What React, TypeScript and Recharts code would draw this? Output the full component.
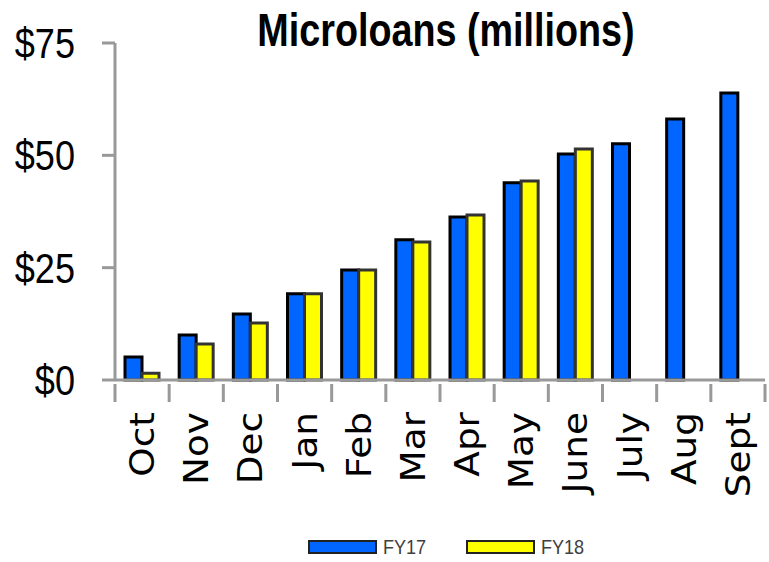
import { BarChart, Bar, XAxis, YAxis, Legend } from 'recharts';

const months = ['Oct', 'Nov', 'Dec', 'Jan', 'Feb', 'Mar', 'Apr', 'May', 'June', 'July', 'Aug', 'Sept'];
const fy17 = [5.1, 10.0, 14.7, 19.2, 24.5, 31.2, 36.3, 43.9, 50.3, 52.6, 58.1, 63.9];
const fy18 = [1.5, 8.0, 12.7, 19.2, 24.5, 30.7, 36.7, 44.3, 51.4, null, null, null];
const yTicks = [0, 25, 50, 75];

const data = months.map((m, i) => ({ month: m, FY17: fy17[i], FY18: fy18[i] }));

const SANS = '"Liberation Sans", Arial, sans-serif';
const AXIS = '#999';
const BAND = (769 - 4 - 115) / months.length;

const MonthTick = (props: any) => {
  const { x, y, payload, index } = props;
  return (
    <g>
      <line x1={x - BAND / 2} y1={y - 4} x2={x - BAND / 2} y2={y + 14} stroke={AXIS} strokeWidth={3} />
      {index === months.length - 1 && (
        <line x1={x + BAND / 2} y1={y - 4} x2={x + BAND / 2} y2={y + 14} stroke={AXIS} strokeWidth={3} />
      )}
      <text
        transform={`translate(${x + 12}, ${y + 24}) rotate(-90) scale(1.1, 1)`}
        textAnchor="end"
        fontFamily='"DejaVu Sans", Verdana, sans-serif'
        fontSize={34}
        fill="#000"
      >
        {payload.value}
      </text>
    </g>
  );
};

const DollarTick = (props: any) => {
  const { x, y, payload } = props;
  return (
    <text
      transform={`translate(${x}, ${y + 15}) scale(0.84, 1)`}
      textAnchor="end"
      fontFamily={SANS}
      fontSize={43}
      fill="#000"
    >
      {`$${payload.value}`}
    </text>
  );
};

const LegendBox = () => {
  const items = [
    { name: 'FY17', fill: '#0066FF', gap: 39 },
    { name: 'FY18', fill: '#FFFF00', gap: 0 },
  ];
  return (
    <div style={{ height: 30, display: 'flex', alignItems: 'center', paddingLeft: 308 }}>
      {items.map((it) => (
        <div key={it.name} style={{ display: 'flex', alignItems: 'center', marginRight: it.gap }}>
          <div style={{ width: 65, height: 10, background: it.fill, border: '2px solid #222' }} />
          <span
            style={{
              marginLeft: 6,
              display: 'inline-block',
              width: 44,
              fontFamily: SANS,
              fontSize: 21,
              color: '#404040',
              lineHeight: '22px',
              transform: 'scaleX(0.86)',
              transformOrigin: 'left center',
              whiteSpace: 'nowrap',
            }}
          >
            {it.name}
          </span>
        </div>
      ))}
    </div>
  );
};

export default function App() {
  return (
    <div style={{ position: 'absolute', left: 0, top: 0, width: 769, height: 562, background: '#fff' }}>
      <div
        style={{
          position: 'absolute',
          left: 0,
          top: 0,
          width: 892,
          textAlign: 'center',
          fontFamily: SANS,
          fontWeight: 'bold',
          fontSize: 46,
          lineHeight: '60px',
          color: '#000',
          zIndex: 2,
          transform: 'scaleX(0.82)',
          transformOrigin: '446px 0',
        }}
      >
        Microloans (millions)
      </div>
      <BarChart
        width={769}
        height={562}
        data={data}
        margin={{ top: 43, right: 4, left: 0, bottom: 0 }}
        barSize={17}
        barGap={0}
      >
        <XAxis
          dataKey="month"
          height={152}
          axisLine={{ stroke: AXIS, strokeWidth: 3 }}
          tickLine={false}
          interval={0}
          tick={<MonthTick />}
        />
        <YAxis
          width={115}
          domain={[0, 75]}
          ticks={yTicks}
          interval={0}
          axisLine={{ stroke: AXIS, strokeWidth: 3 }}
          tickLine={{ stroke: AXIS, strokeWidth: 3 }}
          tickSize={13}
          tickMargin={27}
          tick={<DollarTick />}
        />
        <Legend verticalAlign="bottom" content={<LegendBox />} wrapperStyle={{ left: 0, width: 769 }} />
        <Bar dataKey="FY17" fill="#0066FF" stroke="#000" strokeWidth={3} isAnimationActive={false} />
        <Bar dataKey="FY18" fill="#FFFF00" stroke="#333" strokeWidth={3} isAnimationActive={false} />
      </BarChart>
    </div>
  );
}
